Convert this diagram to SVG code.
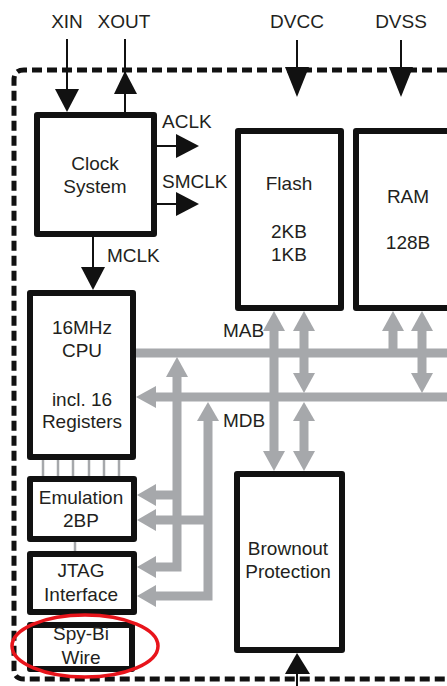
<svg xmlns="http://www.w3.org/2000/svg" width="447" height="686" viewBox="0 0 447 686">
<style>
text{font-family:"Liberation Sans",Arial,sans-serif;font-size:19px;fill:#231f20}
.c{text-anchor:middle}
.box{fill:#fff;stroke:#111;stroke-width:6;stroke-linejoin:round}
.blk{stroke:#111;stroke-width:2;fill:none}
.bus{stroke:#a6a8ab;stroke-width:9;fill:none}
.thin{stroke:#a6a8ab;stroke-width:2.5;fill:none}
.gh{fill:#a6a8ab}
.bh{fill:#111}
</style>
<rect width="447" height="686" fill="#fff"/>
<g id="border">
<path d="M447,70 H24 Q14,70 14,80 V669 Q14,679 24,679 H447" fill="none" stroke="#111" stroke-width="5" stroke-dasharray="10 5"/>
</g>
<g id="connectors">
<line class="blk" x1="67" y1="39" x2="67" y2="92"/>
<polygon class="bh" points="55,89 79,89 67,112"/>
<line class="blk" x1="125" y1="39" x2="125" y2="112"/>
<polygon class="bh" points="114,94 137,94 125,71"/>
<line class="blk" x1="297" y1="40" x2="297" y2="70"/>
<polygon class="bh" points="285,67 309,67 297,97"/>
<line class="blk" x1="401" y1="40" x2="401" y2="70"/>
<polygon class="bh" points="389,67 413,67 401,97"/>
<line class="blk" x1="157" y1="146" x2="178" y2="146"/>
<polygon class="bh" points="176,134 176,158 199,146"/>
<line class="blk" x1="157" y1="204" x2="178" y2="204"/>
<polygon class="bh" points="176,192 176,216 199,204"/>
<line class="blk" x1="93" y1="237" x2="93" y2="270"/>
<polygon class="bh" points="81,267 105,267 93,290"/>
<line class="blk" x1="297" y1="686" x2="297" y2="672"/>
<polygon class="bh" points="285,674 310,674 297,653"/>
<line class="bus" x1="136" y1="353" x2="447" y2="353"/>
<line class="bus" x1="153" y1="397" x2="447" y2="397"/>
<polygon class="gh" points="136,397 156,386 156,408"/>
<line class="bus" x1="274" y1="328" x2="274" y2="454"/>
<polygon class="gh" points="274,311 263,331 285,331"/>
<polygon class="gh" points="274,471 263,451 285,451"/>
<line class="bus" x1="304" y1="328" x2="304" y2="376"/>
<polygon class="gh" points="304,311 293,331 315,331"/>
<polygon class="gh" points="304,393 293,373 315,373"/>
<line class="bus" x1="304" y1="418" x2="304" y2="454"/>
<polygon class="gh" points="304,402 293,421 315,421"/>
<polygon class="gh" points="304,471 293,451 315,451"/>
<line class="bus" x1="393" y1="328" x2="393" y2="353"/>
<polygon class="gh" points="393,311 382,331 404,331"/>
<line class="bus" x1="422" y1="328" x2="422" y2="376"/>
<polygon class="gh" points="422,311 411,331 433,331"/>
<polygon class="gh" points="422,393 411,373 433,373"/>
<polyline class="bus" points="177,374 177,567 153,567"/>
<polygon class="gh" points="177,357 166,377 188,377"/>
<polyline class="bus" points="208,418 208,596 153,596"/>
<polygon class="gh" points="208,402 197,421 219,421"/>
<line class="bus" x1="177" y1="495" x2="153" y2="495"/>
<line class="bus" x1="208" y1="520" x2="153" y2="520"/>
<polygon class="gh" points="137,495 156,484 156,506"/>
<polygon class="gh" points="137,520 156,509 156,531"/>
<polygon class="gh" points="137,567 156,556 156,578"/>
<polygon class="gh" points="137,596 156,585 156,607"/>
<g class="thin">
<line x1="43" y1="460" x2="43" y2="477"/>
<line x1="58" y1="460" x2="58" y2="477"/>
<line x1="73" y1="460" x2="73" y2="477"/>
<line x1="89" y1="460" x2="89" y2="477"/>
<line x1="104" y1="460" x2="104" y2="477"/>
<line x1="119" y1="460" x2="119" y2="477"/>
<line x1="75" y1="542" x2="75" y2="552"/>
</g>
</g>
<g id="labels">
<text class="c" x="67" y="28">XIN</text>
<text class="c" x="124" y="28">XOUT</text>
<text class="c" x="297" y="28">DVCC</text>
<text class="c" x="401" y="28">DVSS</text>
<text x="162" y="128">ACLK</text>
<text x="162" y="188">SMCLK</text>
<text x="107" y="262">MCLK</text>
<text x="223" y="337">MAB</text>
<text x="223" y="427">MDB</text>
</g>
<g id="clock">
<rect class="box" x="37" y="115" width="117" height="119"/>
<text class="c" x="95" y="170">Clock</text>
<text class="c" x="95" y="193">System</text>
</g>
<g id="cpu">
<rect class="box" x="30" y="293" width="103" height="164"/>
<text class="c" x="82" y="334">16MHz</text>
<text class="c" x="82" y="357">CPU</text>
<text class="c" x="82" y="406">incl. 16</text>
<text class="c" x="82" y="428">Registers</text>
</g>
<g id="emulation">
<rect class="box" x="30" y="479" width="104" height="60"/>
<text class="c" x="81" y="504">Emulation</text>
<text class="c" x="81" y="527">2BP</text>
</g>
<g id="jtag">
<rect class="box" x="30" y="554" width="104" height="58"/>
<text class="c" x="81" y="577">JTAG</text>
<text class="c" x="81" y="601">Interface</text>
</g>
<g id="spybiwire">
<rect class="box" x="30" y="625" width="102" height="44"/>
<text class="c" x="81" y="640">Spy-Bi</text>
<text class="c" x="81" y="664">Wire</text>
</g>
<g id="flash">
<rect class="box" x="238" y="131" width="103" height="177"/>
<text class="c" x="289" y="190">Flash</text>
<text class="c" x="289" y="238">2KB</text>
<text class="c" x="289" y="261">1KB</text>
</g>
<g id="ram">
<rect class="box" x="356" y="131" width="200" height="177"/>
<text class="c" x="408" y="203">RAM</text>
<text class="c" x="408" y="249">128B</text>
</g>
<g id="brownout">
<rect class="box" x="237" y="474" width="105" height="176"/>
<text class="c" x="288" y="555">Brownout</text>
<text class="c" x="288" y="578">Protection</text>
</g>
<g id="highlight">
<ellipse cx="85" cy="646" rx="73" ry="31" fill="none" stroke="#e8141b" stroke-width="3.5"/>
</g>
</svg>
